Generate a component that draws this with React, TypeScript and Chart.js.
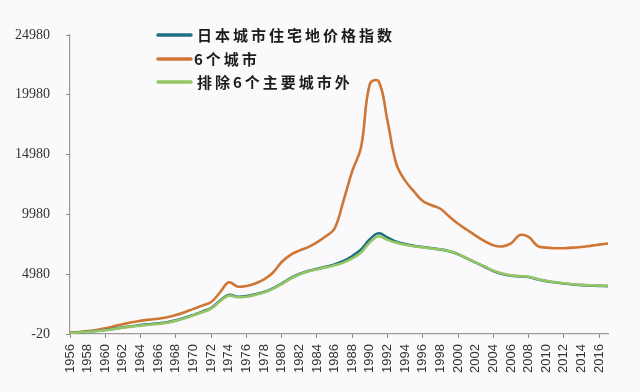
import { useEffect, useRef } from "react";
import { Chart, registerables } from "chart.js";

Chart.register(...registerables);

const years = [
  "1956", "1957", "1958", "1959", "1960", "1961", "1962", "1963", "1964", "1965",
  "1966", "1967", "1968", "1969", "1970", "1971", "1972", "1973", "1974", "1975",
  "1976", "1977", "1978", "1979", "1980", "1981", "1982", "1983", "1984", "1985",
  "1986", "1987", "1988", "1989", "1990", "1991", "1992", "1993", "1994", "1995",
  "1996", "1997", "1998", "1999", "2000", "2001", "2002", "2003", "2004", "2005",
  "2006", "2007", "2008", "2009", "2010", "2011", "2012", "2013", "2014", "2015",
  "2016", "2017",
];

const xTickLabels = [
  "1956", "1958", "1960", "1962", "1964", "1966", "1968", "1970", "1972", "1974",
  "1976", "1978", "1980", "1982", "1984", "1986", "1988", "1990", "1992", "1994",
  "1996", "1998", "2000", "2002", "2004", "2006", "2008", "2010", "2012", "2014",
  "2016",
];

const yTicks = [-20, 4980, 9980, 14980, 19980, 24980];

// 日本城市住宅地价格指数
const nationalIndex = [
  60, 110, 170, 240, 320, 420, 530, 630, 720, 800,
  870, 960, 1120, 1330, 1580, 1850, 2150, 2750, 3250, 3100,
  3150, 3300, 3500, 3800, 4200, 4650, 5000, 5250, 5420, 5600,
  5800, 6080, 6500, 7050, 7900, 8400, 8050, 7700, 7500, 7350,
  7250, 7150, 7050, 6900, 6650, 6300, 5950, 5600, 5250, 5000,
  4850, 4800, 4750, 4550, 4400, 4300, 4200, 4120, 4070, 4030,
  4000, 3980,
];

// 6个城市
const sixCities = [
  80, 150, 230, 320, 450, 620, 800, 960, 1080, 1180,
  1260, 1380, 1560, 1800, 2080, 2350, 2650, 3450, 4300, 3950,
  4000, 4200, 4550, 5100, 6000, 6600, 6950, 7250, 7650, 8150,
  8800, 11100, 13600, 15600, 20900, 21100, 17800, 14200, 12800, 11900,
  11100, 10750, 10450, 9800, 9200, 8700, 8200, 7750, 7400, 7300,
  7550, 8250, 8100, 7350, 7200, 7150, 7150, 7200, 7250, 7350,
  7450, 7550,
];

// 排除6个主要城市外
const excludingSix = [
  50, 100, 160, 225, 300, 400, 500, 600, 680, 760,
  830, 920, 1080, 1290, 1540, 1800, 2100, 2700, 3180, 3050,
  3100, 3250, 3450, 3750, 4150, 4600, 4950, 5200, 5380, 5550,
  5720, 5950, 6300, 6800, 7650, 8150, 7850, 7600, 7450, 7320,
  7230, 7130, 7040, 6900, 6660, 6320, 5970, 5630, 5280, 5030,
  4880, 4820, 4760, 4570, 4420, 4320, 4220, 4140, 4090, 4050,
  4020, 4000,
];

const seriesNames = ["日本城市住宅地价格指数", "6个城市", "排除6个主要城市外"];
const seriesColors = ["#1f6f80", "#cf7634", "#96c565"];

const legendPlugin = {
  id: "customLegend",
  afterDraw(chart: any) {
    const ctx = chart.ctx as CanvasRenderingContext2D;
    const rowsY = [35, 59, 82];
    ctx.save();
    seriesNames.forEach((name, i) => {
      const y = rowsY[i];
      ctx.beginPath();
      ctx.strokeStyle = seriesColors[i];
      ctx.lineWidth = 3.5;
      ctx.lineCap = "round";
      ctx.moveTo(158, y);
      ctx.lineTo(191, y);
      ctx.stroke();
      ctx.fillStyle = "#1c1c1c";
      ctx.font = "bold 15px 'Noto Sans CJK SC'";
      (ctx as any).letterSpacing = "3px";
      ctx.textBaseline = "middle";
      ctx.textAlign = "left";
      ctx.fillText(name, i === 1 ? 194 : 197, y);
    });
    ctx.restore();
  },
};

const bgPlugin = {
  id: "bg",
  beforeDraw(chart: any) {
    const ctx = chart.ctx as CanvasRenderingContext2D;
    ctx.save();
    ctx.fillStyle = "#fafafc";
    ctx.fillRect(0, 0, chart.width, chart.height);
    ctx.restore();
  },
};

export default function App() {
  const ref = useRef<HTMLCanvasElement | null>(null);

  useEffect(() => {
    if (!ref.current) return;
    const chart = new Chart(ref.current, {
      type: "line",
      data: {
        labels: years,
        datasets: [
          {
            label: seriesNames[0],
            data: nationalIndex,
            borderColor: seriesColors[0],
            borderWidth: 2.6,
            pointRadius: 0,
            tension: 0.4,
            order: 1,
          },
          {
            label: seriesNames[1],
            data: sixCities,
            borderColor: seriesColors[1],
            borderWidth: 2.6,
            pointRadius: 0,
            tension: 0.4,
            order: 2,
          },
          {
            label: seriesNames[2],
            data: excludingSix,
            borderColor: seriesColors[2],
            borderWidth: 2.6,
            pointRadius: 0,
            tension: 0.4,
            order: 0,
          },
        ],
      },
      options: {
        responsive: false,
        animation: false,
        layout: { padding: { left: 0, top: 35, right: 32, bottom: 0 } },
        plugins: {
          legend: { display: false },
          tooltip: { enabled: false },
        },
        scales: {
          x: {
            type: "category",
            offset: false,
            grid: {
              drawOnChartArea: false,
              drawTicks: true,
              tickLength: 4,
              color: (c: any) => (xTickLabels.includes(years[c.index]) ? "#8a8a8a" : "rgba(0,0,0,0)"),
            },
            border: { display: true, color: "#9a9a9a", width: 1.2 },
            ticks: {
              autoSkip: false,
              minRotation: 90,
              maxRotation: 90,
              padding: 6,
              color: "#333",
              font: { family: "'Liberation Sans', Arial, sans-serif", size: 13 },
              callback: (_v: any, i: number) => (xTickLabels.includes(years[i]) ? years[i] : null),
            },
            afterFit: (s: any) => {
              s.height = 58;
            },
          },
          y: {
            type: "linear",
            min: yTicks[0],
            max: yTicks[yTicks.length - 1],
            grid: {
              drawOnChartArea: false,
              drawTicks: true,
              tickLength: 4,
              color: "#8a8a8a",
            },
            border: { display: true, color: "#9a9a9a", width: 1.2 },
            ticks: {
              padding: 16,
              color: "#333",
              font: { family: "'Liberation Serif', 'Times New Roman', serif", size: 14 },
              callback: (v: any) => String(v),
            },
            afterBuildTicks: (s: any) => {
              s.ticks = yTicks.map((v) => ({ value: v }));
            },
            afterFit: (s: any) => {
              s.width = 70;
            },
          },
        },
      },
      plugins: [bgPlugin, legendPlugin],
    });
    return () => chart.destroy();
  }, []);

  return (
    <div style={{ position: "fixed", left: 0, top: 0, width: 640, height: 392, background: "#fafafc" }}>
      <canvas ref={ref} width={640} height={392} />
    </div>
  );
}
